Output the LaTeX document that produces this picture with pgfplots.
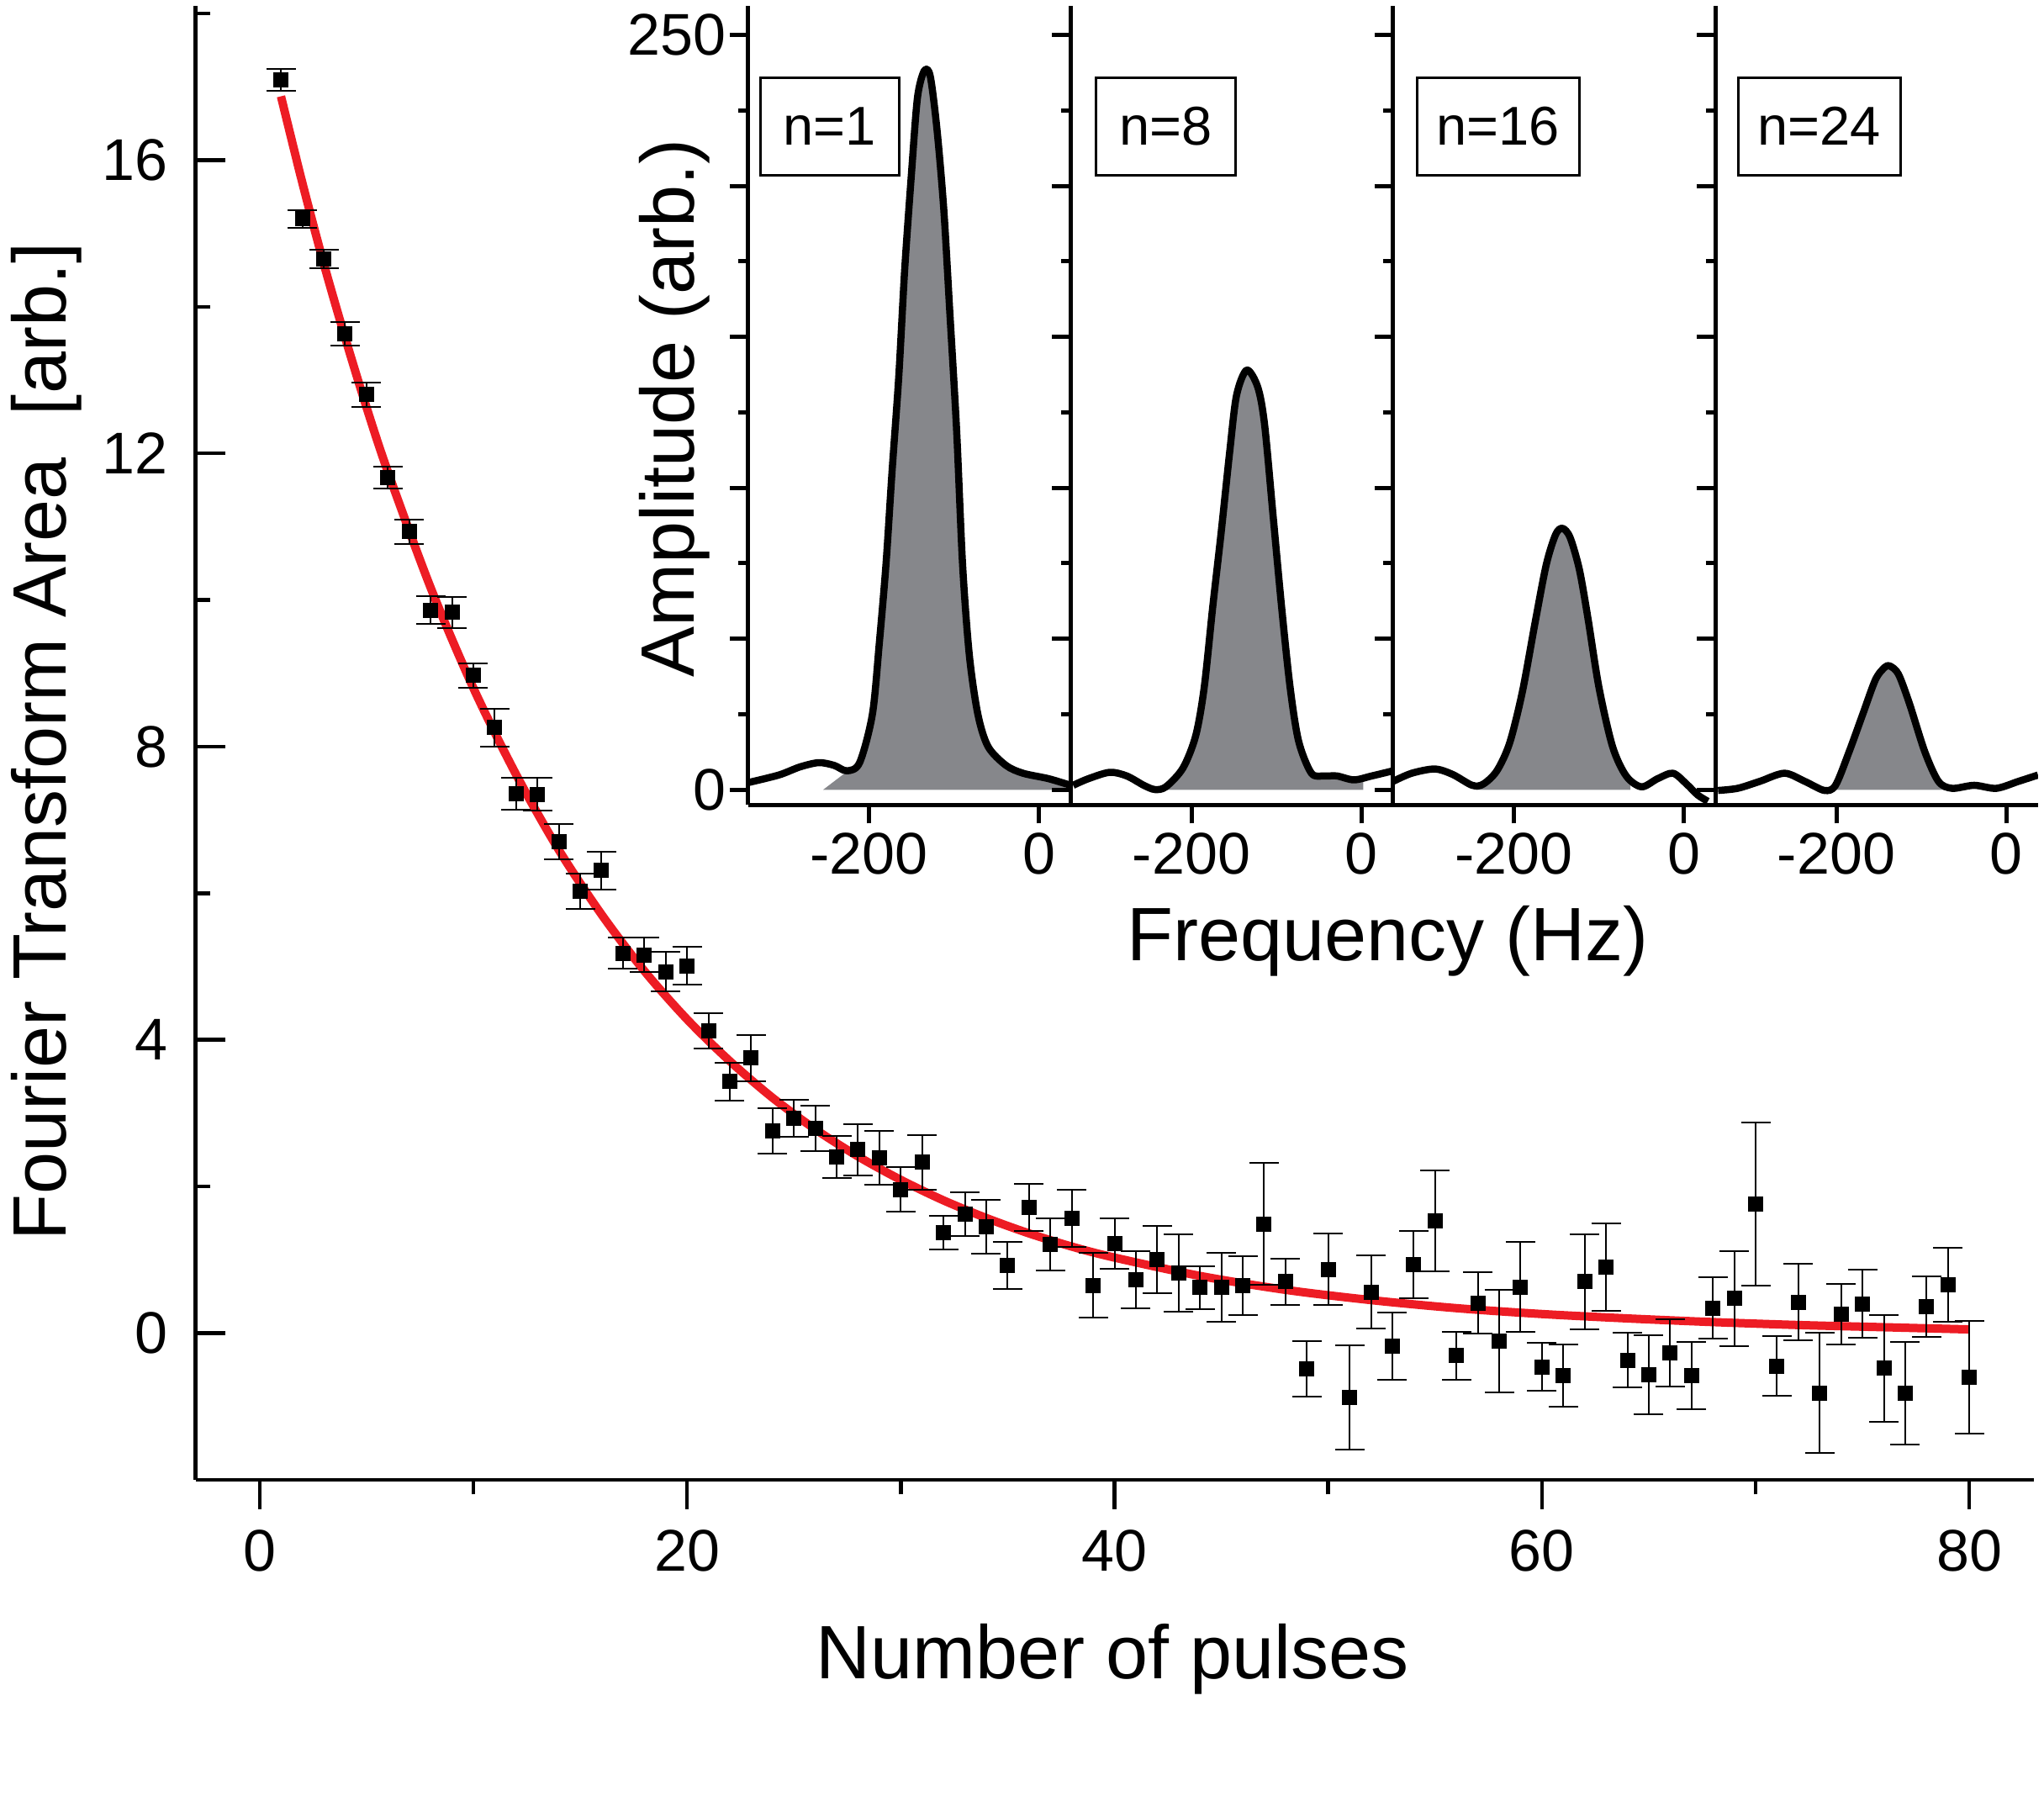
\documentclass[border=0pt]{standalone}
\usepackage{fontspec}
\setmainfont{Liberation Sans}
\usepackage{pgfplots}
\usepackage{pgfplotstable}
\pgfplotsset{compat=1.18}

\definecolor{fitred}{RGB}{237,28,36}
\definecolor{specgray}{RGB}{134,135,139}

% Fourier transform area versus number of pulses: n, area, error
\pgfplotstableread{
n a e
1 17.09 0.15
2 15.20 0.12
3 14.65 0.13
4 13.63 0.16
5 12.80 0.17
6 11.67 0.15
7 10.93 0.17
8 9.86 0.19
9 9.83 0.21
10 8.97 0.17
11 8.26 0.26
12 7.36 0.22
13 7.35 0.22
14 6.70 0.24
15 6.03 0.24
16 6.31 0.26
17 5.18 0.21
18 5.16 0.24
19 4.93 0.27
20 5.01 0.26
21 4.12 0.24
22 3.43 0.26
23 3.75 0.32
24 2.76 0.31
25 2.93 0.25
26 2.79 0.31
27 2.40 0.29
28 2.50 0.35
29 2.39 0.37
30 1.96 0.30
31 2.33 0.37
32 1.37 0.23
33 1.62 0.30
34 1.45 0.37
35 0.92 0.32
36 1.71 0.32
37 1.21 0.36
38 1.56 0.39
39 0.65 0.44
40 1.22 0.34
41 0.73 0.39
42 1.00 0.46
43 0.82 0.53
44 0.62 0.29
45 0.62 0.47
46 0.65 0.40
47 1.49 0.835
48 0.70 0.32
49 -0.49 0.38
50 0.87 0.49
51 -0.88 0.71
52 0.56 0.50
53 -0.18 0.46
54 0.93 0.46
55 1.53 0.69
56 -0.31 0.33
57 0.41 0.42
58 -0.11 0.70
59 0.63 0.61
60 -0.46 0.33
61 -0.58 0.42
62 0.70 0.65
63 0.90 0.60
64 -0.37 0.37
65 -0.57 0.54
66 -0.27 0.46
67 -0.58 0.46
68 0.34 0.42
69 0.47 0.65
70 1.76 1.11
71 -0.45 0.41
72 0.42 0.52
73 -0.82 0.82
74 0.26 0.41
75 0.40 0.46
76 -0.48 0.73
77 -0.82 0.70
78 0.36 0.41
79 0.66 0.50
80 -0.60 0.77
}\pulsedata

\pgfplotsset{
  spectrum/.style={
    anchor=south west,
    scale only axis, width=76.7pt, height=190pt,
    xmin=-342, xmax=37, ymin=-5, ymax=259.5,
    axis x line=bottom, axis y line=left,
    axis line style={-, line width=1pt},
    xtick={-200,0}, xticklabels={-200,0},
    ytick={0,50,...,250}, minor ytick={25,75,...,225},
    tick align=outside,
    major tick length=4.4pt, minor tick length=2.3pt,
    tick style={line width=1pt, black},
    tick label style={font=\fontsize{14}{16}\selectfont},
    xticklabel style={yshift=1.3pt},
  },
  peakfill/.style={fill=specgray, draw=none, smooth},
  peakline/.style={black, line width=1.7pt, smooth, line join=round},
}

\begin{document}
\begin{tikzpicture}
\path (0,0) rectangle (486.2pt,426.8pt);

% main decay plot
\begin{axis}[
  at={(46.5pt,75.1pt)}, anchor=south west,
  scale only axis, width=437.2pt, height=350.5pt,
  xmin=-3, xmax=83, ymin=-2, ymax=18.1,
  axis x line=bottom, axis y line=left,
  axis line style={-, line width=0.9pt},
  xtick={0,20,...,80}, minor xtick={10,30,50,70},
  ytick={0,4,...,16}, minor ytick={2,6,...,18},
  xtick align=outside, ytick align=inside,
  major tick length=7pt, minor tick length=3.5pt,
  tick style={line width=0.9pt, black},
  tick label style={font=\fontsize{14}{16}\selectfont},
  /pgf/number format/assume math mode=true,
  xticklabel style={yshift=-1.5pt},
  yticklabel style={xshift=-3.1pt},
]
\addplot[fitred, line width=2pt, smooth] coordinates {
  (1,16.87) (2,15.69) (3,14.59) (4,13.58) (5,12.63) (6,11.75) (8,10.17)
  (10,8.80) (12,7.62) (14,6.59) (16,5.71) (18,4.94) (20,4.28) (22,3.71)
  (24,3.21) (26,2.78) (28,2.41) (30,2.09) (32,1.81) (34,1.57) (36,1.36)
  (38,1.18) (40,1.03) (44,0.78) (48,0.59) (52,0.45) (56,0.34) (60,0.26)
  (64,0.20) (68,0.15) (72,0.11) (76,0.08) (80,0.05)
};
\addplot[only marks, mark=square*, mark size=1.6pt, black,
  error bars/.cd, y dir=both, y explicit,
  error bar style={line width=0.4pt, black},
  error mark options={rotate=90, mark size=3.5pt, line width=0.4pt, black}]
  table[x=n, y=a, y error=e] {\pulsedata};
\end{axis}

% spectrum after n = 1 pulse
\begin{axis}[spectrum, at={(177.96pt,235.6pt)},
  yticklabels={0,,,,,250}, yticklabel style={xshift=2.6pt}]
\addplot[peakfill] coordinates {
  (-254,0) (-226,6.0) (-211,9.0) (-196,25.0) (-188,48.1) (-180,74.7)
  (-173,104.9) (-165,136.8) (-158,172.4) (-150,204.3) (-143,229.2)
  (-135,238.1) (-128,236.3) (-120,218.5) (-112,191.9) (-105,158.2)
  (-97,119.1) (-90,74.7) (-82,44.5) (-72,25.0) (-60,14.3) (-39,8.1)
  (-19,5.5) (11,3.7) (31,2.0)
} \closedcycle;
\addplot[peakline] coordinates {
  (-342,2.4) (-306,4.9) (-281,7.6) (-259,9.0) (-241,8.1) (-226,6.3)
  (-211,9.0) (-196,25.0) (-188,48.1) (-180,74.7) (-173,104.9) (-165,136.8)
  (-158,172.4) (-150,204.3) (-143,229.2) (-135,238.1) (-128,236.3)
  (-120,218.5) (-112,191.9) (-105,158.2) (-97,119.1) (-90,74.7) (-82,44.5)
  (-72,25.0) (-60,14.3) (-39,8.1) (-19,5.5) (11,3.7) (37,1.5)
};
\end{axis}

% n = 8
\begin{axis}[spectrum, at={(254.66pt,235.6pt)}, yticklabels={}]
\addplot[peakfill] coordinates {
  (-241,0) (-230,1.0) (-210,7.2) (-195,17.9) (-185,33.9) (-175,60.5)
  (-165,85.4) (-155,112.0) (-147,130.6) (-135,139.0) (-122,133.3)
  (-114,120.9) (-104,90.7) (-94,60.5) (-84,33.9) (-74,16.1) (-59,5.5)
  (-44,4.6) (-29,4.6) (-9,3.3) (2,3.8)
} \closedcycle;
\addplot[peakline] coordinates {
  (-339,1.5) (-321,3.7) (-296,5.8) (-276,4.6) (-256,1.5) (-243,0.1)
  (-230,1.0) (-210,7.2) (-195,17.9) (-185,33.9) (-175,60.5) (-165,85.4)
  (-155,112.0) (-147,130.6) (-135,139.0) (-122,133.3) (-114,120.9)
  (-104,90.7) (-94,60.5) (-84,33.9) (-74,16.1) (-59,5.5) (-44,4.6)
  (-29,4.6) (-9,3.3) (12,4.6) (37,6.3)
};
\end{axis}

% n = 16
\begin{axis}[spectrum, at={(331.36pt,235.6pt)}, yticklabels={}]
\addplot[peakfill] coordinates {
  (-244,0) (-236,1.9) (-220,6.3) (-205,15.5) (-190,32.5) (-175,55.5)
  (-162,74.5) (-151,84.5) (-143,86.6) (-134,83.6) (-123,72.9) (-113,56.9)
  (-100,33.9) (-84,14.3) (-68,4.6) (-63,3.0)
} \closedcycle;
\addplot[peakline] coordinates {
  (-342,2.8) (-320,5.5) (-293,6.9) (-272,5.1) (-249,1.5) (-236,1.9)
  (-220,6.3) (-205,15.5) (-190,32.5) (-175,55.5) (-162,74.5) (-151,84.5)
  (-143,86.6) (-134,83.6) (-123,72.9) (-113,56.9) (-100,33.9) (-84,14.3)
  (-68,4.6) (-50,1.0) (-31,3.7) (-13,5.5) (3,1.9) (16,-1.7) (28,-3.8)
};
\end{axis}

% n = 24
\begin{axis}[spectrum, at={(408.06pt,235.6pt)}, yticklabels={}]
\addplot[peakfill] coordinates {
  (-206,0) (-201,1.5) (-185,12.6) (-169,25.0) (-154,36.5) (-143,40.6)
  (-137,41.0) (-127,38.3) (-114,28.5) (-96,12.6) (-80,2.8) (-64,0.5)
} \closedcycle;
\addplot[peakline] coordinates {
  (-339,-0.2) (-316,0.5) (-290,2.8) (-261,5.5) (-237,2.8) (-214,-0.2)
  (-201,1.5) (-185,12.6) (-169,25.0) (-154,36.5) (-143,40.6) (-137,41.0)
  (-127,38.3) (-114,28.5) (-96,12.6) (-80,2.8) (-64,0.5) (-38,1.5)
  (-12,0.5) (14,2.8) (37,4.9)
};
\end{axis}

% pulse-count tags
\begin{scope}[every node/.style={draw, line width=0.6pt, inner sep=0pt,
    minimum height=23.2pt, anchor=north west, font=\fontsize{13}{15}\selectfont}]
  \node[minimum width=33.1pt] at (180.5pt,408.9pt) {n=1};
  \node[minimum width=33.3pt] at (260.3pt,408.9pt) {n=8};
  \node[minimum width=38.6pt] at (336.7pt,408.9pt) {n=16};
  \node[minimum width=38.6pt] at (413.1pt,408.9pt) {n=24};
\end{scope}

% axis titles
\begin{scope}[every node/.style={font=\fontsize{18}{21.6}\selectfont, inner sep=0pt}]
  \node[anchor=base] at (264.6pt,27.8pt) {Number of pulses};
  \node[anchor=base, rotate=90] at (15.7pt,250.6pt) {Fourier Transform Area\ \ [arb.]};
  \node[anchor=base] at (330.1pt,198.5pt) {Frequency (Hz)};
  \node[anchor=base, rotate=90] at (165pt,330pt) {Amplitude (arb.)};
\end{scope}
\end{tikzpicture}
\end{document}
